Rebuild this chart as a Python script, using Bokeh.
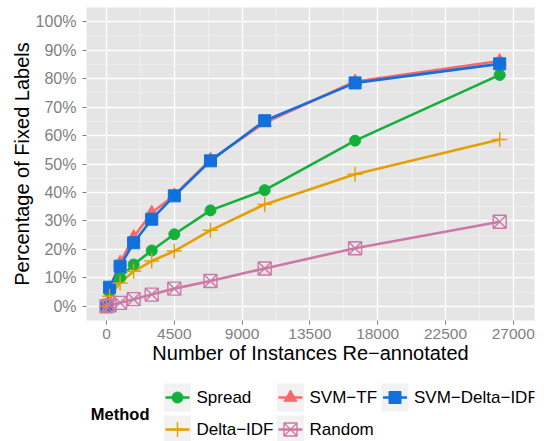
from bokeh.plotting import figure
from bokeh.layouts import column
from bokeh.models import Range1d, FixedTicker, Label
from bokeh.core.properties import value
from bokeh.embed import file_html
from bokeh.resources import INLINE

# ---------------- data ----------------
instances = [0, 200, 900, 1800, 3000, 4500, 6900, 10500, 16500, 26100]
spread = [0.0, 0.05, 0.10, 0.147, 0.196, 0.253, 0.337, 0.408, 0.582, 0.813]
svm_tf = [0.0, 0.06, 0.153, 0.243, 0.329, 0.390, 0.515, 0.645, 0.790, 0.862]
svm_delta_idf = [0.0, 0.067, 0.141, 0.223, 0.306, 0.388, 0.511, 0.652, 0.785, 0.852]
delta_idf = [0.0, 0.035, 0.082, 0.123, 0.159, 0.194, 0.267, 0.358, 0.464, 0.586]
random_sel = [0.0, 0.003, 0.012, 0.025, 0.041, 0.062, 0.089, 0.133, 0.204, 0.297]

x_ticks = [0, 4500, 9000, 13500, 18000, 22500, 27000]
x_tick_labels = ["0", "4500", "9000", "13500", "18000", "22500", "27000"]
y_ticks = [0.0, 0.1, 0.2, 0.3, 0.4, 0.5, 0.6, 0.7, 0.8, 0.9, 1.0]
y_tick_labels = ["0%", "10%", "20%", "30%", "40%", "50%", "60%", "70%", "80%", "90%", "100%"]

method_names = ["Spread", "SVM\u2212TF", "SVM\u2212Delta\u2212IDF", "Delta\u2212IDF", "Random"]
method_values = [spread, svm_tf, svm_delta_idf, delta_idf, random_sel]
method_colors = ["#13B13A", "#F8696B", "#1170DC", "#E69F00", "#CC79A7"]
method_markers = ["circle", "triangle", "square", "cross", "square_x"]
method_sizes = [11, 13, 12, 15, 13]

FONT = "Liberation Sans"

# ---------------- main plot ----------------
MAIN_H = 370
p = figure(width=550, height=MAIN_H, output_backend="svg", toolbar_location=None,
           x_range=Range1d(-1330, 28410), y_range=Range1d(-0.05, 1.05),
           min_border_left=86, min_border_right=16, min_border_top=7, min_border_bottom=50)
p.background_fill_color = "#E5E5E5"
p.border_fill_color = "white"
p.outline_line_color = None

p.xaxis.ticker = FixedTicker(ticks=x_ticks, minor_ticks=[x + 2250 for x in x_ticks[:-1]])
p.yaxis.ticker = FixedTicker(ticks=y_ticks, minor_ticks=[y + 0.05 for y in y_ticks[:-1]])
p.xaxis.major_label_overrides = {t: l for t, l in zip(x_ticks, x_tick_labels)}
p.yaxis.major_label_overrides = {t: l for t, l in zip(y_ticks, y_tick_labels)}

p.grid.grid_line_color = "white"
p.grid.grid_line_width = 1.3
p.grid.minor_grid_line_color = "#F2F2F2"
p.grid.minor_grid_line_width = 0.7

for ax in (p.xaxis, p.yaxis):
    ax.axis_line_color = None
    ax.major_tick_line_color = "#7F7F7F"
    ax.major_tick_out = 4
    ax.major_tick_in = 0
    ax.minor_tick_line_color = None
    ax.major_label_text_color = "#7F7F7F"
    ax.major_label_text_font = FONT
    ax.major_label_text_font_size = "16px"
    ax.major_label_standoff = 4
    ax.axis_label_text_font = FONT
    ax.axis_label_text_font_size = "20px"
    ax.axis_label_text_font_style = "normal"
    ax.axis_label_text_color = "black"
    ax.axis_label_standoff = 0

p.xaxis.axis_label = "Number of Instances Re\u2212annotated"
p.yaxis.axis_label = "Percentage of Fixed Labels"
p.xaxis.major_label_text_font_size = "15.5px"
p.yaxis.major_label_standoff = 6

for vals, col in zip(method_values, method_colors):
    p.line(instances, vals, line_color=col, line_width=2.6, line_join="round")
for vals, col, mk, sz in zip(method_values, method_colors, method_markers, method_sizes):
    if mk in ("cross", "square_x"):
        p.scatter(instances, vals, marker=mk, size=sz, line_color=col, fill_color=None,
                  line_width=1.4)
    else:
        p.scatter(instances, vals, marker=mk, size=sz, line_color=col, fill_color=col,
                  line_width=1)

# ---------------- legend ----------------
# legend panel shares the main plot's left/right borders (column aligns frames),
# so its x range is expressed in page pixels of that frame (86..534)
LEG_H = 441 - MAIN_H
leg = figure(width=550, height=LEG_H, output_backend="svg", toolbar_location=None,
             x_range=Range1d(86, 534), y_range=Range1d(MAIN_H + LEG_H, MAIN_H),
             x_axis_type=None, y_axis_type=None,
             min_border_left=86, min_border_right=16, min_border_top=0, min_border_bottom=0)
leg.grid.visible = False
leg.outline_line_color = None
leg.background_fill_color = "white"

col_x = [177, 290, 394.5]
row_y = [397, 429]
key_w, key_h = 27, 28
slot_x = [col_x[i % 3] for i in range(len(method_names))]
slot_y = [row_y[i // 3] for i in range(len(method_names))]

leg.rect(slot_x, slot_y, width=key_w, height=key_h, fill_color="#F2F2F2", line_color=None)
for i, (col, mk, sz) in enumerate(zip(method_colors, method_markers, method_sizes)):
    leg.segment(x0=[slot_x[i] - 12], y0=[slot_y[i]], x1=[slot_x[i] + 12], y1=[slot_y[i]],
                line_color=col, line_width=2.6)
    if mk in ("cross", "square_x"):
        leg.scatter([slot_x[i]], [slot_y[i]], marker=mk, size=sz, line_color=col,
                    fill_color=None, line_width=1.4)
    else:
        leg.scatter([slot_x[i]], [slot_y[i]], marker=mk, size=sz, line_color=col,
                    fill_color=col, line_width=1)
for i, name in enumerate(method_names):
    leg.add_layout(Label(x=slot_x[i] + 19, y=slot_y[i], text=name, text_font=FONT,
                         text_font_size="17px", text_baseline="middle", text_align="left",
                         text_color="black"))
leg.add_layout(Label(x=149, y=(row_y[0] + row_y[1]) / 2, text="Method", text_font=FONT,
                     text_font_size="16.5px", text_font_style="bold",
                     text_baseline="middle", text_align="right", text_color="black"))

layout = column(p, leg, spacing=0)
open("out.html", "w").write(file_html(layout, INLINE))
